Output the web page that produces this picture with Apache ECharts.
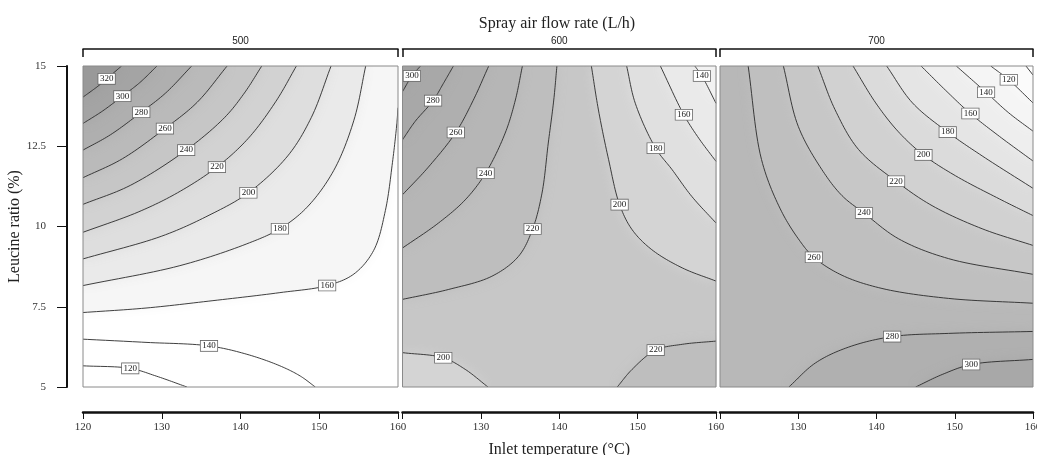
<!DOCTYPE html>
<html>
<head>
<meta charset="utf-8">
<script src="https://cdn.jsdelivr.net/npm/echarts@6/dist/echarts.min.js"></script>
<style>html,body{margin:0;padding:0;background:#fff}#chart{width:1037px;height:455px}</style>
</head>
<body>
<div id="chart"></div>
<script>
// ---------------- DATA ----------------
const airFlowRates = ['500', '600', '700'];          // strip labels (L/h)
const inletTempRange = [120, 160];                     // x range (°C)
const leucineRange = [5, 15];                          // y range (%)
const baseLevels = [150, 210, 270];                    // level of the band lying between the contour families

// contour lines: level, index of the labelled point, points [temperature, leucine]
// points are ordered so that higher values lie on the left of the direction of travel
const contours500 = [
  { level: 320, label: 2, pts: [[120,14.03],[122,14.39],[123,14.6],[124.9,15]] },
  { level: 300, label: 2, pts: [[120,13.21],[122.5,13.6],[125,14.06],[127.2,14.48],[129.4,15]] },
  { level: 280, label: 2, pts: [[120,12.38],[123.5,12.86],[127.4,13.56],[130.5,14.16],[133.8,15]] },
  { level: 260, label: 2, pts: [[120,11.52],[125,12.11],[130.4,13.05],[134.5,13.87],[138.3,15]] },
  { level: 240, label: 2, pts: [[120,10.69],[126,11.28],[133.1,12.38],[138,13.4],[140.5,14.16],[142.7,15]] },
  { level: 220, label: 3, pts: [[120,9.82],[127,10.45],[132,11.05],[137,11.85],[141,12.75],[144.5,13.9],[147.1,15]] },
  { level: 200, label: 3, pts: [[120,8.99],[130,9.7],[136,10.35],[141,11.05],[146,12.2],[149,13.4],[151.5,15]] },
  { level: 180, label: 3, pts: [[120,8.16],[132.3,8.78],[140.8,9.46],[145,9.93],[148.45,10.6],[151.85,11.75],[154.4,13.31],[155.9,15]] },
  { level: 160, label: 4, pts: [[120,7.32],[128,7.46],[136.5,7.69],[145,7.94],[151,8.16],[154.4,8.52],[156.9,9.25],[158.4,10.5],[159.3,12.0],[159.85,13.2],[160,13.7]] },
  { level: 140, label: 2, pts: [[120,6.49],[128,6.39],[136,6.28],[140.8,6.02],[145,5.66],[147.6,5.34],[149.5,5]] },
  { level: 120, label: 1, pts: [[120,5.66],[126,5.58],[129.3,5.34],[133.2,5]] }
];
const contours600 = [
  { level: 300, label: 1, pts: [[120,14.2],[121.2,14.69],[122.3,15]] },
  { level: 280, label: 2, pts: [[120,12.7],[121.6,13.27],[123.9,13.92],[125.2,14.45],[126.5,15]] },
  { level: 260, label: 2, pts: [[120,10.99],[123.3,11.85],[126.8,12.93],[129,13.92],[131,15]] },
  { level: 240, label: 3, pts: [[120,9.33],[124.6,10.11],[128,10.83],[130.6,11.66],[133.1,12.91],[134.4,13.94],[135.3,15]] },
  { level: 220, label: 4, pts: [[120,7.73],[125.9,8.04],[131.4,8.45],[134.8,9.07],[136.6,9.92],[137.8,11.04],[138.6,12.6],[139.3,13.94],[139.7,15]] },
  { level: 200, label: 4, pts: [[160,8.3],[155.7,8.71],[151.8,9.28],[149.3,9.9],[147.7,10.68],[146.3,12.08],[145,13.63],[144.1,15]] },
  { level: 180, label: 3, pts: [[160,10.11],[156.9,10.94],[154.4,11.77],[152.3,12.44],[149.7,13.84],[148.6,15]] },
  { level: 160, label: 2, pts: [[160,12.03],[157.8,12.75],[155.9,13.48],[152.9,15]] },
  { level: 140, label: 1, pts: [[160,13.84],[158.2,14.69],[157.3,15]] },
  { level: 200, label: 1, pts: [[120,6.07],[125.2,5.91],[128,5.55],[130.9,5]] },
  { level: 220, label: 2, pts: [[160,6.43],[155.7,6.33],[152.3,6.15],[149.3,5.55],[147.4,5]] }
];
const contours700 = [
  { level: 260, label: 4, pts: [[160,7.61],[149.2,7.76],[140.7,8.07],[135.6,8.48],[132,9.04],[130,9.62],[127.7,10.55],[125.3,12.09],[123.6,15]] },
  { level: 240, label: 3, pts: [[160,8.51],[149.2,9.0],[142.8,9.62],[138.4,10.42],[135.6,10.96],[133,11.78],[130,13.12],[128.1,15]] },
  { level: 220, label: 3, pts: [[160,9.41],[153.5,9.93],[147.1,10.65],[142.5,11.41],[137.7,12.4],[134.7,13.64],[132.5,15]] },
  { level: 200, label: 3, pts: [[160,10.34],[155.7,10.86],[150.1,11.58],[146,12.23],[142.8,12.95],[139.9,13.85],[137,15]] },
  { level: 180, label: 2, pts: [[160,11.19],[153.5,12.2],[149.1,12.94],[144.6,13.85],[141.3,15]] },
  { level: 160, label: 2, pts: [[160,12.04],[155.7,12.81],[152,13.52],[148.8,14.25],[145.7,15]] },
  { level: 140, label: 2, pts: [[160,12.97],[156.9,13.54],[154,14.18],[150.2,15]] },
  { level: 120, label: 1, pts: [[160,13.85],[156.9,14.57],[154.6,15]] },
  { level: 100, label: -1, pts: [[160,14.72],[159.1,15]] },
  { level: 280, label: 2, pts: [[160,6.73],[149.2,6.67],[142,6.57],[136.4,6.24],[132.2,5.75],[128.8,5]] },
  { level: 300, label: 1, pts: [[160,5.86],[152.1,5.7],[148.4,5.39],[145,5]] }
];
const contourSets = [contours500, contours600, contours700];

// ---------------- STYLE ----------------
const SERIF = '"Liberation Serif", "Times New Roman", serif';
const SANS = '"Liberation Sans", Arial, sans-serif';
// gray shade of a band (value -> gray level), one ramp per panel
const grayRamps = [
  [[110,255],[150,255],[170,246],[190,234],[210,222],[230,210],[250,198],[270,186],[290,175],[310,164],[330,153]],
  [[130,242],[150,234],[170,224],[190,212],[210,199],[230,190],[250,182],[270,175],[290,168],[310,160]],
  [[90,255],[110,251],[130,245],[150,238],[170,229],[190,219],[210,209],[230,199],[250,191],[270,184],[290,176],[310,168]]
];
function grayLevel(panel, v) {
  const r = grayRamps[panel];
  let g = r[0][1];
  if (v >= r[r.length - 1][0]) g = r[r.length - 1][1];
  else for (let i = 0; i < r.length - 1; i++) {
    if (v >= r[i][0] && v <= r[i + 1][0]) {
      const w = (v - r[i][0]) / (r[i + 1][0] - r[i][0]);
      g = r[i][1] + (r[i + 1][1] - r[i][1]) * w; break;
    }
  }
  return Math.round(Math.max(0, Math.min(255, g)));
}
function gray(panel, v) {
  const g = grayLevel(panel, v);
  return 'rgb(' + g + ',' + g + ',' + g + ')';
}

// centripetal Catmull-Rom smoothing of pixel points
function smoothPx(pts) {
  const n = pts.length;
  if (n < 3) return pts.slice();
  const out = [];
  const dist = (a, b) => Math.max(1e-3, Math.pow(Math.hypot(b[0] - a[0], b[1] - a[1]), 0.5));
  for (let i = 0; i < n - 1; i++) {
    const p1 = pts[i], p2 = pts[i + 1];
    const p0 = i === 0 ? [2 * p1[0] - p2[0], 2 * p1[1] - p2[1]] : pts[i - 1];
    const p3 = i === n - 2 ? [2 * p2[0] - p1[0], 2 * p2[1] - p1[1]] : pts[i + 2];
    const t0 = 0, t1 = t0 + dist(p0, p1), t2 = t1 + dist(p1, p2), t3 = t2 + dist(p2, p3);
    const steps = 14;
    for (let s = 0; s < steps; s++) {
      const t = t1 + (t2 - t1) * s / steps;
      const L = (a, b, ta, tb) => { const w = (t - ta) / (tb - ta); return [a[0] + (b[0] - a[0]) * w, a[1] + (b[1] - a[1]) * w]; };
      const A1 = L(p0, p1, t0, t1), A2 = L(p1, p2, t1, t2), A3 = L(p2, p3, t2, t3);
      const B1 = L(A1, A2, t0, t2), B2 = L(A2, A3, t1, t3);
      out.push(L(B1, B2, t1, t2));
    }
  }
  out.push(pts[n - 1]);
  return out;
}

// walk along the panel border (in data space) from the end of a contour back to its start
const B = { x0: inletTempRange[0], x1: inletTempRange[1], y0: leucineRange[0], y1: leucineRange[1] };
function perim(p) {
  const W = B.x1 - B.x0, H = B.y1 - B.y0;
  const dl = Math.abs(p[0] - B.x0) / W, dr = Math.abs(p[0] - B.x1) / W;
  const db = Math.abs(p[1] - B.y0) / H, dt = Math.abs(p[1] - B.y1) / H;
  const m = Math.min(dl, dr, db, dt);
  if (m === db) return (p[0] - B.x0) / W;
  if (m === dr) return 1 + (p[1] - B.y0) / H;
  if (m === dt) return 2 + (B.x1 - p[0]) / W;
  return 3 + (B.y1 - p[1]) / H;
}
function corner(k) {
  return [[B.x0, B.y0], [B.x1, B.y0], [B.x1, B.y1], [B.x0, B.y1]][((k % 4) + 4) % 4];
}
function closure(start, end, ccw) {
  const se = perim(end); let ss = perim(start);
  const res = [];
  if (ccw) {
    if (ss <= se) ss += 4;
    for (let k = Math.ceil(se); k < ss; k++) if (k > se) res.push(corner(k));
  } else {
    if (ss >= se) ss -= 4;
    for (let k = Math.floor(se); k > ss; k--) if (k < se) res.push(corner(k));
  }
  return res;
}

// ---------------- LAYOUT ----------------
const gridTop = 66, gridHeight = 321;
const gridBoxes = [{ left: 83, width: 315 }, { left: 402.5, width: 313.5 }, { left: 720, width: 313 }];

const grids = [], xAxes = [], yAxes = [], series = [];
gridBoxes.forEach((g, i) => {
  grids.push({
    left: g.left, width: g.width, top: gridTop, height: gridHeight,
    containLabel: false, outerBoundsMode: 'none',
    show: true, backgroundColor: 'transparent', borderColor: '#8a8a8a', borderWidth: 1, z: 5
  });
  // bottom axis
  xAxes.push({
    gridIndex: i, type: 'value', min: inletTempRange[0], max: inletTempRange[1], interval: 10,
    position: 'bottom', offset: 25,
    axisLine: { show: true, onZero: false, lineStyle: { color: '#111', width: 2.5 } },
    axisTick: { show: true, length: 7, lineStyle: { color: '#111', width: 1 } },
    axisLabel: { fontFamily: SERIF, fontSize: 11, color: '#333', margin: 10,
      formatter: v => (i > 0 && v === inletTempRange[0]) ? '' : String(v) },
    splitLine: { show: false },
    name: i === 1 ? 'Inlet temperature (°C)' : '',
    nameLocation: 'middle', nameGap: 30,
    nameTextStyle: { fontFamily: SERIF, fontSize: 16, color: '#222' }
  });
  // top strip bracket
  xAxes.push({
    gridIndex: i, type: 'value', min: inletTempRange[0], max: inletTempRange[1], interval: 40,
    position: 'top', offset: 17,
    axisLine: { show: true, onZero: false, lineStyle: { color: '#111', width: 1.5 } },
    axisTick: { show: true, inside: true, length: 8, lineStyle: { color: '#111', width: 1.5 } },
    axisLabel: { show: false }, splitLine: { show: false },
    name: airFlowRates[i], nameLocation: 'middle', nameGap: 3,
    nameTextStyle: { fontFamily: SANS, fontSize: 10, color: '#222' }
  });
  yAxes.push(i === 0 ? {
    gridIndex: 0, type: 'value', min: leucineRange[0], max: leucineRange[1], interval: 2.5,
    position: 'left', offset: 16,
    axisLine: { show: true, onZero: false, lineStyle: { color: '#111', width: 2 } },
    axisTick: { show: true, length: 10, lineStyle: { color: '#111', width: 1 } },
    axisLabel: { fontFamily: SERIF, fontSize: 11, color: '#333', margin: 21 },
    splitLine: { show: false },
    name: 'Leucine ratio (%)', nameLocation: 'middle', nameGap: 37, nameRotate: 90,
    nameTextStyle: { fontFamily: SERIF, fontSize: 16, color: '#222' }
  } : {
    gridIndex: i, type: 'value', min: leucineRange[0], max: leucineRange[1], show: false
  });

  const set = contourSets[i];
  const base = baseLevels[i];
  // paint order: base band, then pockets from the base band outwards
  const highs = set.map((c, k) => k).filter(k => set[k].level > base).sort((a, b) => set[a].level - set[b].level);
  const lows = set.map((c, k) => k).filter(k => set[k].level < base).sort((a, b) => set[b].level - set[a].level);
  const order = [-1].concat(highs, lows);
  const xi = 2 * i;

  series.push({
    type: 'custom', name: 'bands ' + airFlowRates[i], xAxisIndex: xi, yAxisIndex: i,
    coordinateSystem: 'cartesian2d', clip: true, silent: true, z: 1,
    data: order.map(k => k < 0 ? [B.x0, B.y0, base] : [set[k].pts[0][0], set[k].pts[0][1], set[k].level]),
    renderItem: function (params, api) {
      const k = order[params.dataIndex];
      if (k < 0) {
        const p0 = api.coord([B.x0, B.y1]), p1 = api.coord([B.x1, B.y0]);
        return { type: 'rect', shape: { x: p0[0], y: p0[1], width: p1[0] - p0[0], height: p1[1] - p0[1] },
          style: { fill: gray(i, base) } };
      }
      const c = set[k];
      const high = c.level > base;
      const dense = smoothPx(c.pts.map(p => api.coord(p)));
      const corners = closure(c.pts[0], c.pts[c.pts.length - 1], high).map(p => api.coord(p));
      const col = gray(i, c.level + (high ? 10 : -10));
      return { type: 'polygon', shape: { points: dense.concat(corners) },
        style: { fill: col, shadowBlur: 12, shadowColor: col } };
    }
  });
  series.push({
    type: 'custom', name: 'contours ' + airFlowRates[i], xAxisIndex: xi, yAxisIndex: i,
    coordinateSystem: 'cartesian2d', clip: true, silent: true, z: 2,
    data: set.map(c => [c.pts[0][0], c.pts[0][1], c.level]),
    renderItem: function (params, api) {
      const c = set[params.dataIndex];
      const dense = smoothPx(c.pts.map(p => api.coord(p)));
      return { type: 'polyline', shape: { points: dense },
        style: { stroke: '#2a2a2a', lineWidth: 0.9, fill: null } };
    }
  });
  const labelled = set.filter(c => c.label >= 0);
  series.push({
    type: 'custom', name: 'labels ' + airFlowRates[i], xAxisIndex: xi, yAxisIndex: i,
    coordinateSystem: 'cartesian2d', clip: false, silent: true, z: 3,
    data: labelled.map(c => [c.pts[c.label][0], c.pts[c.label][1], c.level]),
    renderItem: function (params, api) {
      const p = api.coord([api.value(0), api.value(1)]);
      return { type: 'text', x: p[0], y: p[1],
        style: { text: String(api.value(2)), fontFamily: SERIF, fontSize: 9, fill: '#222',
          align: 'center', verticalAlign: 'middle', backgroundColor: '#fff',
          borderColor: '#6a6a6a', borderWidth: 0.8, padding: [1, 1.5, 0, 1.5] } };
    }
  });
});

const chart = echarts.init(document.getElementById('chart'), null, { renderer: 'canvas' });
chart.setOption({
  animation: false,
  backgroundColor: '#fff',
  title: {
    text: 'Spray air flow rate (L/h)', left: 552, top: 11, textAlign: 'center',
    textStyle: { fontFamily: SERIF, fontSize: 16, fontWeight: 'normal', color: '#222' }
  },
  grid: grids, xAxis: xAxes, yAxis: yAxes, series: series
});
</script>
</body>
</html>
